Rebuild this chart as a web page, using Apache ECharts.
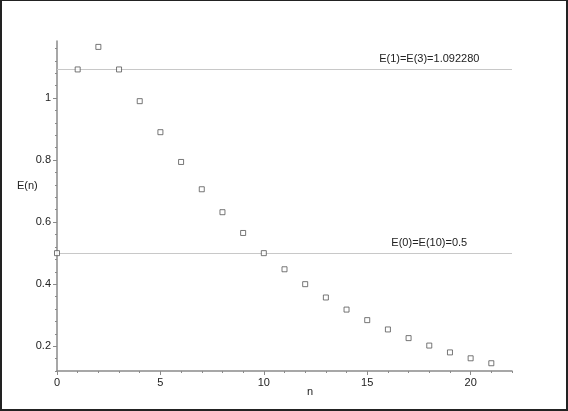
<!DOCTYPE html>
<html>
<head>
<meta charset="utf-8">
<script src="https://cdn.jsdelivr.net/npm/echarts@6/dist/echarts.min.js"></script>
<style>
  html, body { margin: 0; padding: 0; background: #fff; }
  #frame { width: 568px; height: 411px; box-sizing: border-box; border: 2px solid #222; border-top-width: 1px; }
  #main { width: 564px; height: 408px; }
</style>
</head>
<body>
<div id="frame"><div id="main"></div></div>
<script>
// values
var nValues = [0, 1, 2, 3, 4, 5, 6, 7, 8, 9, 10, 11, 12, 13, 14, 15, 16, 17, 18, 19, 20, 21];
var eValues = [0.5, 1.09228, 1.165, 1.09228, 0.99, 0.89, 0.794, 0.706, 0.632, 0.565, 0.5,
  0.448, 0.40, 0.357, 0.318, 0.284, 0.254, 0.226, 0.202, 0.180, 0.161, 0.145];

// reference lines
var refValues = [1.09228, 0.5];
var refLabels = ['E(1)=E(3)=1.092280', 'E(0)=E(10)=0.5'];
var refLabelAt = 18;

// ticks
var xMajorTicks = [0, 5, 10, 15, 20];
var xMinorTicks = [0, 1, 2, 3, 4, 5, 6, 7, 8, 9, 10, 11, 12, 13, 14, 15, 16, 17, 18, 19, 20, 21, 22];
var yMajorTicks = [0.2, 0.4, 0.6, 0.8, 1];
var yMinorTicks = [0.12, 0.16, 0.2, 0.24, 0.28, 0.32, 0.36, 0.4, 0.44, 0.48, 0.52, 0.56, 0.6, 0.64,
  0.68, 0.72, 0.76, 0.8, 0.84, 0.88, 0.92, 0.96, 1, 1.04, 1.08, 1.12, 1.16];

var axisColor = '#8a8a8a';
var font = 'Liberation Sans, Arial, sans-serif';

var myChart = echarts.init(document.getElementById('main'));

var points = nValues.map(function (n, i) { return [n, eValues[i]]; });

myChart.setOption({
  animation: false,
  grid: { left: 55, right: 54, top: 40, bottom: 38 },
  // axis titles (placed like the original, off-centre)
  graphic: [
    { type: 'text', left: 15, top: 179, style: { text: 'E(n)', fill: '#222', font: '11px ' + font } },
    { type: 'text', left: 305, top: 385, style: { text: 'n', fill: '#222', font: '11px ' + font } }
  ],
  xAxis: [{
    type: 'value', min: 0, max: 22,
    axisLine: { lineStyle: { color: axisColor, width: 1.5 } },
    axisTick: { customValues: xMajorTicks, length: 4, inside: false, lineStyle: { color: axisColor } },
    axisLabel: { customValues: xMajorTicks, color: '#222', fontFamily: font, fontSize: 11, margin: 6 },
    splitLine: { show: false }
  }, {
    type: 'value', min: 0, max: 22, position: 'bottom',
    axisLine: { show: false },
    axisTick: { customValues: xMinorTicks, length: 2, lineStyle: { color: axisColor } },
    axisLabel: { show: false },
    splitLine: { show: false }
  }],
  yAxis: [{
    type: 'value', min: 0.12, max: 1.184,
    axisLine: { lineStyle: { color: axisColor, width: 1.5 } },
    axisTick: { customValues: yMajorTicks, length: 4, lineStyle: { color: axisColor } },
    axisLabel: { customValues: yMajorTicks, color: '#222', fontFamily: font, fontSize: 11, margin: 6 },
    splitLine: { show: false }
  }, {
    type: 'value', min: 0.12, max: 1.184, position: 'left',
    axisLine: { show: false },
    axisTick: { customValues: yMinorTicks, length: 2, lineStyle: { color: axisColor } },
    axisLabel: { show: false },
    splitLine: { show: false }
  }],
  series: [{
    type: 'scatter',
    data: points,
    symbol: 'rect',
    symbolSize: 5,
    itemStyle: { color: '#fff', borderColor: '#555', borderWidth: 1 },
    z: 5,
    markLine: {
      silent: true,
      symbol: 'none',
      lineStyle: { color: '#c8c8c8', width: 1, type: 'solid' },
      label: { show: false },
      data: refValues.map(function (v) { return [{ coord: [0, v] }, { coord: [22, v] }]; })
    },
    markPoint: {
      silent: true,
      symbol: 'circle',
      symbolSize: 0,
      label: { show: true, position: 'top', distance: 5, color: '#222', fontFamily: font, fontSize: 11,
        formatter: function (p) { return p.name; } },
      data: refValues.map(function (v, i) { return { name: refLabels[i], coord: [refLabelAt, v] }; })
    }
  }]
});
</script>
</body>
</html>
